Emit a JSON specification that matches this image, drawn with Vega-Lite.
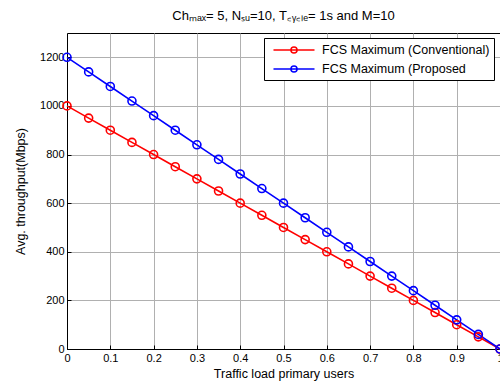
{
  "$schema": "https://vega.github.io/schema/vega-lite/v6.json",
  "width": 433,
  "height": 316,
  "autosize": {"type": "none"},
  "padding": {"left": 67, "top": 33, "right": 0, "bottom": 37},
  "background": "white",
  "title": {
    "text": "Chₘₐₓ= 5, Nₛᵤ=10, T꜀ᵧ꜀ₗₑ= 1s and M=10",
    "font": "Liberation Sans",
    "fontSize": 13,
    "fontWeight": "normal",
    "color": "black",
    "anchor": "middle",
    "offset": 10
  },
  "config": {
    "view": {"stroke": "black", "strokeWidth": 1},
    "axis": {
      "labelFont": "Liberation Sans",
      "labelFontSize": 11,
      "labelColor": "black",
      "titleFont": "Liberation Sans",
      "titleFontSize": 12.5,
      "titleFontWeight": "normal",
      "titleColor": "black",
      "domainColor": "black",
      "domainWidth": 1,
      "tickColor": "black",
      "tickSize": -4,
      "gridColor": "#b0b0b0",
      "gridWidth": 1,
      "gridOpacity": 1,
      "labelPadding": 7
    }
  },
  "data": {
    "values": [
      {"load": 0, "throughput": 1000, "series": "FCS Maximum (Conventional)"},
      {"load": 0.05, "throughput": 950, "series": "FCS Maximum (Conventional)"},
      {"load": 0.1, "throughput": 900, "series": "FCS Maximum (Conventional)"},
      {"load": 0.15, "throughput": 850, "series": "FCS Maximum (Conventional)"},
      {"load": 0.2, "throughput": 800, "series": "FCS Maximum (Conventional)"},
      {"load": 0.25, "throughput": 750, "series": "FCS Maximum (Conventional)"},
      {"load": 0.3, "throughput": 700, "series": "FCS Maximum (Conventional)"},
      {"load": 0.35, "throughput": 650, "series": "FCS Maximum (Conventional)"},
      {"load": 0.4, "throughput": 600, "series": "FCS Maximum (Conventional)"},
      {"load": 0.45, "throughput": 550, "series": "FCS Maximum (Conventional)"},
      {"load": 0.5, "throughput": 500, "series": "FCS Maximum (Conventional)"},
      {"load": 0.55, "throughput": 450, "series": "FCS Maximum (Conventional)"},
      {"load": 0.6, "throughput": 400, "series": "FCS Maximum (Conventional)"},
      {"load": 0.65, "throughput": 350, "series": "FCS Maximum (Conventional)"},
      {"load": 0.7, "throughput": 300, "series": "FCS Maximum (Conventional)"},
      {"load": 0.75, "throughput": 250, "series": "FCS Maximum (Conventional)"},
      {"load": 0.8, "throughput": 200, "series": "FCS Maximum (Conventional)"},
      {"load": 0.85, "throughput": 150, "series": "FCS Maximum (Conventional)"},
      {"load": 0.9, "throughput": 100, "series": "FCS Maximum (Conventional)"},
      {"load": 0.95, "throughput": 50, "series": "FCS Maximum (Conventional)"},
      {"load": 1, "throughput": 0, "series": "FCS Maximum (Conventional)"},
      {"load": 0, "throughput": 1200, "series": "FCS Maximum (Proposed"},
      {"load": 0.05, "throughput": 1140, "series": "FCS Maximum (Proposed"},
      {"load": 0.1, "throughput": 1080, "series": "FCS Maximum (Proposed"},
      {"load": 0.15, "throughput": 1020, "series": "FCS Maximum (Proposed"},
      {"load": 0.2, "throughput": 960, "series": "FCS Maximum (Proposed"},
      {"load": 0.25, "throughput": 900, "series": "FCS Maximum (Proposed"},
      {"load": 0.3, "throughput": 840, "series": "FCS Maximum (Proposed"},
      {"load": 0.35, "throughput": 780, "series": "FCS Maximum (Proposed"},
      {"load": 0.4, "throughput": 720, "series": "FCS Maximum (Proposed"},
      {"load": 0.45, "throughput": 660, "series": "FCS Maximum (Proposed"},
      {"load": 0.5, "throughput": 600, "series": "FCS Maximum (Proposed"},
      {"load": 0.55, "throughput": 540, "series": "FCS Maximum (Proposed"},
      {"load": 0.6, "throughput": 480, "series": "FCS Maximum (Proposed"},
      {"load": 0.65, "throughput": 420, "series": "FCS Maximum (Proposed"},
      {"load": 0.7, "throughput": 360, "series": "FCS Maximum (Proposed"},
      {"load": 0.75, "throughput": 300, "series": "FCS Maximum (Proposed"},
      {"load": 0.8, "throughput": 240, "series": "FCS Maximum (Proposed"},
      {"load": 0.85, "throughput": 180, "series": "FCS Maximum (Proposed"},
      {"load": 0.9, "throughput": 120, "series": "FCS Maximum (Proposed"},
      {"load": 0.95, "throughput": 60, "series": "FCS Maximum (Proposed"},
      {"load": 1, "throughput": 0, "series": "FCS Maximum (Proposed"}
    ]
  },
  "mark": {
    "type": "line",
    "strokeWidth": 1.6,
    "point": {"filled": false, "size": 64, "strokeWidth": 1.6}
  },
  "encoding": {
    "x": {
      "field": "load",
      "type": "quantitative",
      "scale": {"domain": [0, 1], "nice": false},
      "axis": {
        "values": [0, 0.1, 0.2, 0.3, 0.4, 0.5, 0.6, 0.7, 0.8, 0.9, 1],
        "format": "~g",
        "title": "Traffic load primary users",
        "titlePadding": 4,
        "labelFlush": false
      }
    },
    "y": {
      "field": "throughput",
      "type": "quantitative",
      "scale": {"domain": [0, 1300], "nice": false},
      "axis": {
        "values": [0, 200, 400, 600, 800, 1000, 1200],
        "format": "d",
        "title": "Avg. throughput(Mbps)",
        "titlePadding": 12
      }
    },
    "color": {
      "field": "series",
      "type": "nominal",
      "scale": {
        "domain": ["FCS Maximum (Conventional)", "FCS Maximum (Proposed"],
        "range": ["#ff0000", "#0000ff"]
      },
      "legend": {
        "title": null,
        "orient": "none",
        "legendX": 197,
        "legendY": 5,
        "strokeColor": "black",
        "fillColor": "white",
        "padding": 4,
        "labelFont": "Liberation Sans",
        "labelFontSize": 12.5,
        "labelColor": "black",
        "labelLimit": 0,
        "rowPadding": 4,
        "symbolType": "M-3,0L3,0M-0.45,0A0.45,0.45,0,1,1,0.45,0A0.45,0.45,0,1,1,-0.45,0",
        "symbolSize": 187,
        "symbolStrokeWidth": 1.5,
        "symbolFillColor": "transparent",
        "symbolOffset": 18,
        "labelOffset": 20
      }
    }
  }
}
